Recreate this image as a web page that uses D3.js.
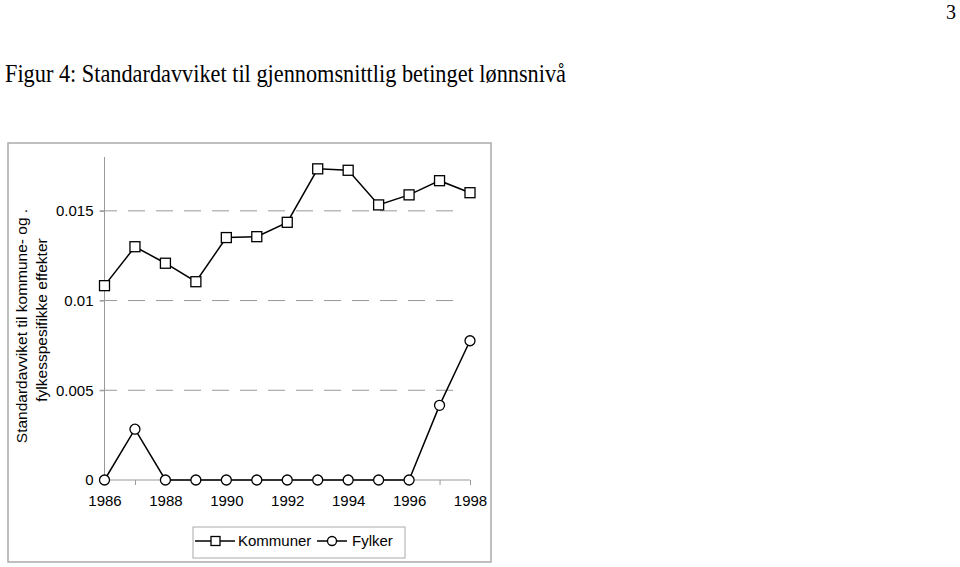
<!DOCTYPE html>
<html><head><meta charset="utf-8">
<script src="https://cdn.jsdelivr.net/npm/d3@7"></script>
<style>body{margin:0;background:#fff}svg{display:block}</style>
</head><body><svg id="c" width="960" height="567"></svg>
<script>
const years = [1986,1987,1988,1989,1990,1991,1992,1993,1994,1995,1996,1997,1998];
const kommuner = [0.01083,0.0130,0.01208,0.01105,0.01351,0.01356,0.01436,0.01734,0.01726,0.01533,0.01589,0.01668,0.01601];
const fylker = [0,0.00283,0,0,0,0,0,0,0,0,0,0.00416,0.00776];
const yTicks = [0,0.005,0.01,0.015];
const xTickLabels = [1986,1988,1990,1992,1994,1996,1998];
const seriesNames = ["Kommuner","Fylker"];

const svg = d3.select("#c");
const sans = "Liberation Sans, Arial, sans-serif";

// page number and title
svg.append("text").attr("x",951).attr("y",19).attr("font-family","Liberation Serif, Times New Roman, serif")
  .attr("font-size",20).attr("text-anchor","middle").text("3");
svg.append("text").attr("x",5).attr("y",82).attr("font-family","Liberation Serif, Times New Roman, serif")
  .attr("font-size",26).attr("textLength",561).attr("lengthAdjust","spacingAndGlyphs")
  .text("Figur 4: Standardavviket til gjennomsnittlig betinget lønnsnivå");

// chart frame
svg.append("rect").attr("x",8).attr("y",143).attr("width",483).attr("height",419)
  .attr("fill","none").attr("stroke","#aaa").attr("stroke-width",1.5);

const x = d3.scaleLinear().domain([1986,1998]).range([104.5,470]);
const y = d3.scaleLinear().domain([0,0.018]).range([480,157]);

// gridlines
svg.append("g").selectAll("line").data(yTicks.filter(d=>d>0)).join("line")
  .attr("x1",100).attr("x2",462).attr("y1",d=>y(d)).attr("y2",d=>y(d))
  .attr("stroke","#999").attr("stroke-width",1).attr("stroke-dasharray","17,11");

// y axis
const yAxis = d3.axisLeft(y).tickValues(yTicks).tickSize(5).tickPadding(6)
  .tickFormat(d=>d===0?"0":String(+d.toFixed(3)));
const gy = svg.append("g").attr("transform","translate(104.5,0)").call(yAxis);
gy.select(".domain").attr("stroke","#999").attr("d","M0,157V480");
gy.selectAll(".tick line").attr("stroke","#999");
gy.selectAll("text").attr("font-family",sans).attr("font-size",15).attr("fill","#000");

// x axis
const xAxis = d3.axisBottom(x).tickValues(years).tickSize(5).tickPadding(10)
  .tickFormat(d=>xTickLabels.includes(d)?String(d):"");
const gx = svg.append("g").attr("transform","translate(0,480)").call(xAxis);
gx.select(".domain").attr("stroke","#999").attr("d","M104.5,0H470");
gx.selectAll(".tick line").attr("stroke","#999");
gx.selectAll("text").attr("font-family",sans).attr("font-size",15).attr("fill","#000");

// y title
const yt = svg.append("text").attr("transform","translate(27,326) rotate(-90)")
  .attr("font-family",sans).attr("font-size",15.5).attr("text-anchor","middle");
yt.append("tspan").attr("x",0).attr("dy",0).text("Standardavviket til kommune- og .");
yt.append("tspan").attr("x",6).attr("dy",20).text("fylkesspesifikke effekter");

// lines
const line = d3.line().x((d,i)=>x(years[i])).y(d=>y(d));
[kommuner,fylker].forEach(s=>{
  svg.append("path").datum(s).attr("d",line).attr("fill","none").attr("stroke","#000").attr("stroke-width",1.5);
});
svg.append("g").selectAll("rect").data(kommuner).join("rect")
  .attr("x",(d,i)=>x(years[i])-5).attr("y",d=>y(d)-5).attr("width",10).attr("height",10)
  .attr("fill","#fff").attr("stroke","#000").attr("stroke-width",1.3);
svg.append("g").selectAll("circle").data(fylker).join("circle")
  .attr("cx",(d,i)=>x(years[i])).attr("cy",d=>y(d)).attr("r",5)
  .attr("fill","#fff").attr("stroke","#000").attr("stroke-width",1.3);

// legend
svg.append("rect").attr("x",193).attr("y",527).attr("width",212).attr("height",31)
  .attr("fill","#fff").attr("stroke","#aaa").attr("stroke-width",1);
const lg = svg.append("g");
lg.append("line").attr("x1",195).attr("x2",235).attr("y1",541).attr("y2",541).attr("stroke","#000").attr("stroke-width",1.5);
lg.append("rect").attr("x",211).attr("y",536.5).attr("width",9).attr("height",9).attr("fill","#fff").attr("stroke","#000").attr("stroke-width",1.3);
lg.append("text").attr("x",238).attr("y",546).attr("font-family",sans).attr("font-size",15).text(seriesNames[0]);
lg.append("line").attr("x1",317).attr("x2",347).attr("y1",541).attr("y2",541).attr("stroke","#000").attr("stroke-width",1.5);
lg.append("circle").attr("cx",332).attr("cy",541).attr("r",4.5).attr("fill","#fff").attr("stroke","#000").attr("stroke-width",1.3);
lg.append("text").attr("x",352).attr("y",546).attr("font-family",sans).attr("font-size",15).text(seriesNames[1]);
</script></body></html>
